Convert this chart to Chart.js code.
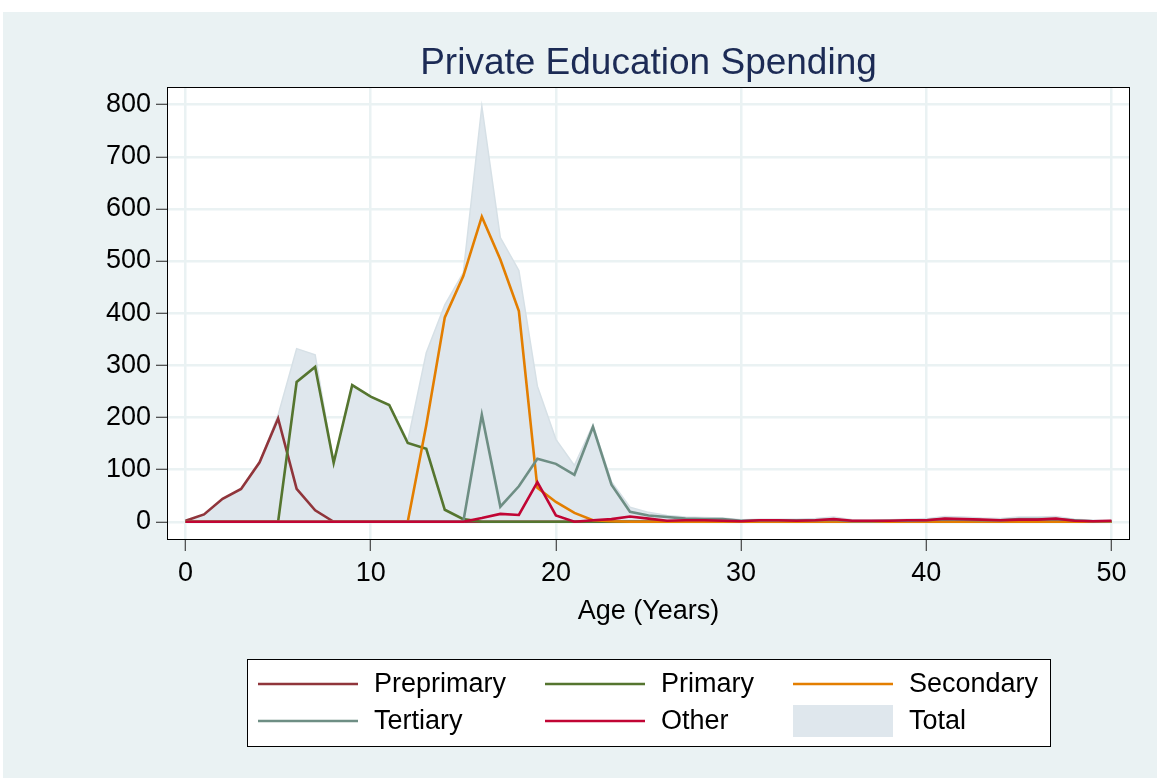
<!DOCTYPE html>
<html>
<head>
<meta charset="utf-8">
<title>Private Education Spending</title>
<script src="https://cdn.jsdelivr.net/npm/chart.js@4.4.1/dist/chart.umd.min.js"></script>
<style>
  html, body { margin: 0; padding: 0; background: #fff; }
  canvas { display: block; }
</style>
</head>
<body>
<canvas id="spendingChart" width="1157" height="778"></canvas>
<script>
// ages 0..50
const ages = [0, 1, 2, 3, 4, 5, 6, 7, 8, 9,
    10, 11, 12, 13, 14, 15, 16, 17, 18, 19,
    20, 21, 22, 23, 24, 25, 26, 27, 28, 29,
    30, 31, 32, 33, 34, 35, 36, 37, 38, 39,
    40, 41, 42, 43, 44, 45, 46, 47, 48, 49,
    50];

const preprimary = [2, 14, 44, 63, 114, 198, 63, 22, 0, 0,
    0, 0, 0, 0, 0, 0, 0, 0, 0, 0,
    0, 0, 0, 0, 0, 0, 0, 0, 0, 0,
    0, 0, 0, 0, 0, 0, 0, 0, 0, 0,
    0, 0, 0, 0, 0, 0, 0, 0, 0, 0,
    0];

const primary = [0, 0, 0, 0, 0, 0, 268, 297, 113, 262,
    240, 224, 151, 140, 23, 5, 0, 0, 0, 0,
    0, 0, 0, 0, 0, 0, 0, 0, 0, 0,
    0, 0, 0, 0, 0, 0, 0, 0, 0, 0,
    0, 0, 0, 0, 0, 0, 0, 0, 0, 0,
    0];

const secondary = [0, 0, 0, 0, 0, 0, 0, 0, 0, 0,
    0, 0, 0, 185, 392, 471, 585, 503, 404, 65,
    38, 17, 3, 1, 0, 0, 0, 0, 0, 0,
    0, 0, 0, 0, 0, 0, 0, 0, 0, 0,
    0, 0, 0, 0, 0, 0, 0, 0, 0, 0,
    0];

const tertiary = [0, 0, 0, 0, 0, 0, 0, 0, 0, 0,
    0, 0, 0, 0, 0, 0, 205, 29, 68, 121,
    111, 90, 182, 71, 19, 12, 9, 6, 5, 5,
    2, 3, 3, 3, 3, 4, 1, 1, 2, 2,
    3, 5, 4, 3, 3, 5, 5, 5, 3, 1,
    1];

const other = [0, 0, 0, 0, 0, 0, 0, 0, 0, 0,
    0, 0, 0, 0, 0, 0, 7, 15, 13, 76,
    12, 0, 3, 5, 10, 6, 2, 3, 3, 2,
    1, 3, 3, 2, 3, 5, 2, 2, 2, 3,
    3, 6, 5, 4, 3, 4, 4, 6, 2, 1,
    2];

const total = [2, 14, 44, 63, 114, 205, 332, 320, 113, 262,
    240, 224, 155, 324, 416, 478, 797, 545, 482, 260,
    158, 108, 186, 77, 28, 18, 12, 9, 8, 7,
    4, 5, 5, 5, 6, 9, 4, 4, 4, 5,
    6, 10, 9, 7, 6, 9, 9, 10, 5, 3,
    3];

const xTicks = [0, 10, 20, 30, 40, 50];
const yTicks = [0, 100, 200, 300, 400, 500, 600, 700, 800];

const FONT = "'Liberation Sans', Arial, Helvetica, sans-serif";
const BG = "#eaf2f3";

const toPoints = (vals) => vals.map((v, i) => ({ x: ages[i], y: v }));

const lineSet = (label, vals, color, order) => ({
    label: label,
    data: toPoints(vals),
    borderColor: color,
    backgroundColor: color,
    borderWidth: 2.6,
    pointRadius: 0,
    tension: 0,
    fill: false,
    order: order
});

// background, white plot region, frame
const stataFrame = {
    id: "stataFrame",
    beforeDraw(chart) {
        const { ctx, chartArea: a, width, height } = chart;
        ctx.save();
        ctx.fillStyle = "#fff";
        ctx.fillRect(0, 0, width, height);
        ctx.fillStyle = BG;
        ctx.fillRect(3, 12, width - 3, height - 12);
        ctx.fillStyle = "#fff";
        ctx.fillRect(a.left, a.top, a.right - a.left, a.bottom - a.top);
        ctx.restore();
    },
    afterDatasetsDraw(chart) {
        const { ctx, chartArea: a } = chart;
        ctx.save();
        ctx.strokeStyle = "#000";
        ctx.lineWidth = 1;
        ctx.strokeRect(Math.round(a.left) + 0.5, Math.round(a.top) + 0.5,
            Math.round(a.right - a.left) - 1, Math.round(a.bottom - a.top) - 1);
        ctx.restore();
    }
};

// boxed legend in 3 columns like Stata
const stataLegend = {
    id: "stataLegend",
    afterDraw(chart) {
        const { ctx, chartArea: a } = chart;
        const boxL = Math.round(a.left) + 80;
        const boxT = Math.round(a.bottom) + 119;
        const boxW = 803, boxH = 87;
        const colX = [11, 298, 546];
        const rowY = [25, 62];
        ctx.save();
        ctx.fillStyle = "#fff";
        ctx.fillRect(boxL, boxT, boxW, boxH);
        ctx.strokeStyle = "#000";
        ctx.lineWidth = 1;
        ctx.strokeRect(boxL + 0.5, boxT + 0.5, boxW, boxH);
        ctx.font = "27px " + FONT;
        ctx.textBaseline = "middle";
        ctx.fillStyle = "#000";
        chart.data.datasets.forEach((ds, i) => {
            const x = boxL + colX[i % 3];
            const y = boxT + rowY[Math.floor(i / 3)];
            if (ds.fill) {
                ctx.fillStyle = ds.backgroundColor;
                ctx.fillRect(x, y - 16, 100, 32);
            } else {
                ctx.strokeStyle = ds.borderColor;
                ctx.lineWidth = ds.borderWidth;
                ctx.beginPath();
                ctx.moveTo(x, y);
                ctx.lineTo(x + 100, y);
                ctx.stroke();
            }
            ctx.fillStyle = "#000";
            ctx.fillText(ds.label, x + 116, y + 1);
        });
        ctx.restore();
    }
};

const gridOpts = {
    color: BG,
    lineWidth: 2.5,
    drawTicks: true,
    tickLength: 11,
    tickColor: "#222",
    tickWidth: 1
};

const ctx = document.getElementById("spendingChart").getContext("2d");
new Chart(ctx, {
    type: "line",
    data: {
        datasets: [
            lineSet("Preprimary", preprimary, "#90353b", 5),
            lineSet("Primary", primary, "#55752f", 4),
            lineSet("Secondary", secondary, "#e37e00", 3),
            lineSet("Tertiary", tertiary, "#6e8e84", 2),
            lineSet("Other", other, "#c10534", 1),
            {
                label: "Total",
                data: toPoints(total),
                borderColor: "#d6e0e6",
                backgroundColor: "#dfe7ed",
                borderWidth: 1.5,
                pointRadius: 0,
                tension: 0,
                fill: "origin",
                order: 6
            }
        ]
    },
    options: {
        responsive: false,
        animation: false,
        layout: { padding: { top: 12, right: 27, bottom: 138, left: 0 } },
        plugins: {
            legend: { display: false },
            tooltip: { enabled: false },
            title: {
                display: true,
                fullSize: false,
                text: "Private Education Spending",
                color: "#1c2b55",
                font: { family: FONT, size: 37, weight: "normal" },
                padding: { top: 30, bottom: 1 }
            }
        },
        scales: {
            x: {
                type: "linear",
                min: -1,
                max: 51,
                afterBuildTicks: (s) => { s.ticks = xTicks.map(v => ({ value: v })); },
                afterFit: (s) => { s.height = 100; },
                grid: gridOpts,
                border: { display: false },
                ticks: {
                    font: { family: FONT, size: 27 },
                    color: "#000",
                    padding: 6,
                    maxRotation: 0
                },
                title: {
                    display: true,
                    text: "Age (Years)",
                    color: "#000",
                    font: { family: FONT, size: 27 },
                    padding: { top: 0, bottom: 12 }
                }
            },
            y: {
                type: "linear",
                min: -35,
                max: 833,
                afterBuildTicks: (s) => { s.ticks = yTicks.map(v => ({ value: v })); },
                afterFit: (s) => { s.width = 167; },
                grid: gridOpts,
                border: { display: false },
                ticks: {
                    font: { family: FONT, size: 27 },
                    color: "#000",
                    padding: 5
                }
            }
        }
    },
    plugins: [stataFrame, stataLegend]
});
</script>
</body>
</html>
